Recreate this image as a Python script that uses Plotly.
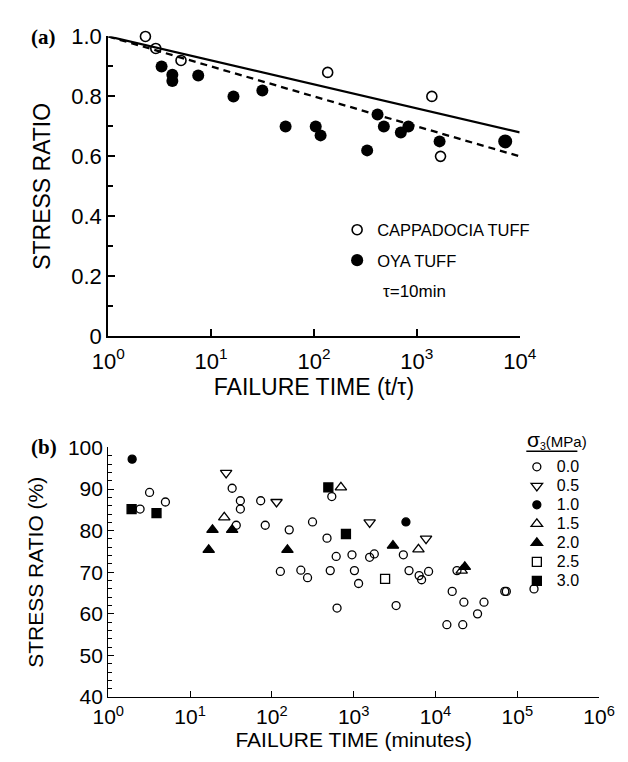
import plotly.graph_objects as go

# ---------------- Panel (a) data ----------------
cap_t = [2.3, 2.9, 5.1, 136, 1400, 1700]
cap_s = [1.00, 0.96, 0.92, 0.88, 0.80, 0.60]
oya_t = [3.3, 4.2, 4.2, 7.5, 16.5, 31.5, 53, 104, 116, 329, 415, 478, 699, 828, 1664, 7230]
oya_s = [0.90, 0.872, 0.851, 0.87, 0.80, 0.82, 0.70, 0.70, 0.67, 0.62, 0.74, 0.70, 0.68, 0.70, 0.65, 0.65]
fit_t = [1, 10, 100, 1000, 10000]
fit_cap = [1.0, 0.92, 0.84, 0.76, 0.68]
fit_oya = [1.0, 0.90, 0.80, 0.70, 0.60]
a_xticks = [1, 10, 100, 1000, 10000]
a_xlabels = ["10<sup>0</sup>", "10<sup>1</sup>", "10<sup>2</sup>", "10<sup>3</sup>", "10<sup>4</sup>"]
a_yticks = [0, 0.2, 0.4, 0.6, 0.8, 1.0]
a_ylabels = ["0", "0.2", "0.4", "0.6", "0.8", "1.0"]

# ---------------- Panel (b) data ----------------
s00_t = [2.45, 3.2, 5.0, 32.7, 41.2, 41.2, 36.7, 73, 83, 163, 127, 226, 273, 314, 472, 540, 611, 517,
         626, 953, 1021, 1148, 1566, 1786, 3300, 4045, 4745, 6310, 6760, 8230, 13770, 16000, 18300,
         21540, 22230, 32660, 39150, 70300, 73400, 160000]
s00_s = [85.2, 89.2, 86.9, 90.2, 87.2, 85.2, 81.3, 87.2, 81.3, 80.2, 70.2, 70.5, 68.7, 82.1, 78.2, 88.2,
         73.8, 70.4, 61.4, 74.2, 70.4, 67.3, 73.6, 74.4, 62.0, 74.2, 70.4, 69.2, 68.2, 70.2, 57.4, 65.4,
         70.4, 57.4, 62.8, 60.0, 62.8, 65.4, 65.4, 66.0]
s05_t = [27.6, 114, 1567, 7660]
s05_s = [93.9, 86.9, 82.0, 78.1]
s10_t = [1.96, 4350]
s10_s = [97.2, 82.1]
s15_t = [26.2, 698, 6190, 20900]
s15_s = [83.2, 90.4, 75.5, 70.4]
s20_t = [16.9, 18.8, 32.7, 155, 3020, 22800]
s20_s = [75.4, 80.2, 80.2, 75.4, 76.4, 71.3]
s25_t = [2420]
s25_s = [68.4]
s30_t = [1.93, 3.89, 490, 804]
s30_s = [85.2, 84.2, 90.4, 79.2]
b_groups = [
    ("0.0", s00_t, s00_s, "circle-open", 8),
    ("0.5", s05_t, s05_s, "triangle-down-open", 10),
    ("1.0", s10_t, s10_s, "circle", 8),
    ("1.5", s15_t, s15_s, "triangle-up-open", 10),
    ("2.0", s20_t, s20_s, "triangle-up", 10),
    ("2.5", s25_t, s25_s, "square-open", 9),
    ("3.0", s30_t, s30_s, "square", 9),
]
b_xticks = [1, 10, 100, 1000, 10000, 100000, 1000000]
b_xlabels = ["10<sup>%d</sup>" % i for i in range(7)]

W, H = 628, 762
FONT = "Liberation Sans, Arial, sans-serif"

def px_x(p):
    return p / W

def px_y(p):
    return 1 - p / H

fig = go.Figure()

# panel (a)
fig.add_trace(go.Scatter(x=fit_t, y=fit_cap, mode="lines", line=dict(color="black", width=2.3),
                         showlegend=False, xaxis="x", yaxis="y", hoverinfo="skip"))
fig.add_trace(go.Scatter(x=fit_t, y=fit_oya, mode="lines", line=dict(color="black", width=2.3, dash="7px,5px"),
                         showlegend=False, xaxis="x", yaxis="y", hoverinfo="skip"))
fig.add_trace(go.Scatter(x=cap_t, y=cap_s, mode="markers", name="CAPPADOCIA TUFF",
                         marker=dict(symbol="circle-open", size=10, color="black", opacity=1,
                                     line=dict(width=1.6, color="black")),
                         xaxis="x", yaxis="y", legend="legend", legendgroup="cap", cliponaxis=False))
fig.add_trace(go.Scatter(x=oya_t, y=oya_s, mode="markers", name="OYA TUFF",
                         marker=dict(symbol="circle", size=[12] * (len(oya_t) - 1) + [14], color="black",
                                     opacity=1, line=dict(width=0)),
                         xaxis="x", yaxis="y", legend="legend", legendgroup="oya", cliponaxis=False))

# panel (b)
for name, tx, sy, sym, sz in b_groups:
    fig.add_trace(go.Scatter(x=tx, y=sy, mode="markers",
                             name="<span style='font-size:16px'>%s</span>" % name,
                             marker=dict(symbol=sym, size=sz, color="black", opacity=1,
                                         line=dict(width=1.3, color="black")),
                             xaxis="x2", yaxis="y2", legend="legend2", cliponaxis=False))

axis_common = dict(showline=True, linecolor="black", showgrid=False, zeroline=False,
                   ticks="inside", tickcolor="black", mirror=False)

fig.update_layout(
    width=W, height=H,
    margin=dict(l=0, r=0, t=0, b=0),
    paper_bgcolor="white", plot_bgcolor="white",
    font=dict(family=FONT, color="black"),
    xaxis=dict(domain=[px_x(88), px_x(523)], anchor="y", type="log", range=[0, 4],
               tickvals=a_xticks, ticktext=a_xlabels, ticklen=7, tickwidth=1.5, linewidth=2,
               tickfont=dict(size=22), ticklabelstandoff=4,
               title=dict(text="FAILURE TIME (t/τ)", font=dict(size=23), standoff=4), **axis_common),
    yaxis=dict(domain=[px_y(327), px_y(17)], anchor="x", range=[0, 1.0],
               tickvals=a_yticks, ticktext=a_ylabels, ticklen=7, tickwidth=1.5, linewidth=2,
               minor=dict(ticks="inside", ticklen=5, dtick=0.1, tickcolor="black", tickwidth=1.5),
               tickfont=dict(size=22),
               title=dict(text="STRESS RATIO", font=dict(size=23), standoff=14), **axis_common),
    xaxis2=dict(domain=[px_x(88), px_x(607)], anchor="y2", type="log", range=[0, 6],
                tickvals=b_xticks, ticktext=b_xlabels, ticklen=6, tickwidth=1, linewidth=1.2,
                tickfont=dict(size=21), ticklabelstandoff=1,
                title=dict(text="FAILURE TIME (minutes)", font=dict(size=21), standoff=0), **axis_common),
    yaxis2=dict(domain=[px_y(700), px_y(442)], anchor="x2", range=[40, 100],
                dtick=10, ticklen=6, tickwidth=1, linewidth=1.2,
                minor=dict(ticks="inside", ticklen=4, dtick=2, tickcolor="black", tickwidth=1),
                tickfont=dict(size=21),
                title=dict(text="STRESS RATIO (%)", font=dict(size=21), standoff=18), **axis_common),
    legend=dict(x=px_x(330), y=px_y(199), xanchor="left", yanchor="top",
                font=dict(size=16.5), tracegroupgap=6, bgcolor="rgba(0,0,0,0)"),
    legend2=dict(x=px_x(520), y=px_y(447), xanchor="left", yanchor="top",
                 font=dict(size=12), bgcolor="rgba(0,0,0,0)"),
    showlegend=True,
)

fig.add_annotation(text="<span style='font-size:21px'>σ</span><sub>3</sub>(MPa)",
                   xref="paper", yref="paper", x=px_x(529), y=px_y(434),
                   showarrow=False, font=dict(size=15), xanchor="left", yanchor="middle")
fig.add_annotation(text="τ=10min", xref="paper", yref="paper", x=px_x(412), y=px_y(281),
                   showarrow=False, font=dict(size=17), xanchor="center", yanchor="middle")
fig.add_annotation(text="<b>(a)</b>", xref="paper", yref="paper", x=px_x(4), y=px_y(18),
                   showarrow=False, font=dict(size=21, family="Liberation Serif, Times New Roman, serif"),
                   xanchor="left", yanchor="middle")
fig.add_annotation(text="<b>(b)</b>", xref="paper", yref="paper", x=px_x(4), y=px_y(442),
                   showarrow=False, font=dict(size=21, family="Liberation Serif, Times New Roman, serif"),
                   xanchor="left", yanchor="middle")
fig.add_shape(type="line", xref="paper", yref="paper", x0=px_x(530), x1=px_x(584),
              y0=px_y(446), y1=px_y(446), line=dict(color="black", width=1.5))

fig.write_html("out.html")
